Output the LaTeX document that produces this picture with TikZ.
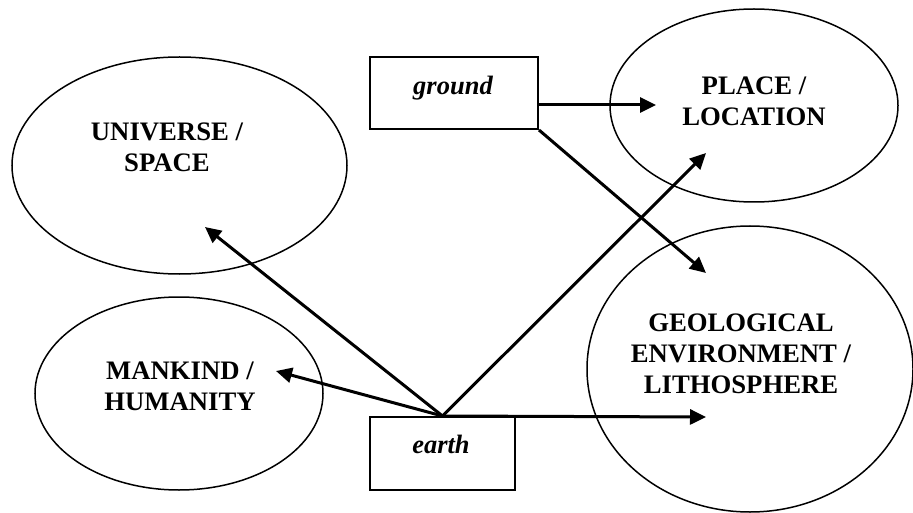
\documentclass[tikz,border=0pt]{standalone}
\usepackage{fontspec}
\setmainfont{Liberation Serif}
\usetikzlibrary{arrows.meta,shapes.geometric,calc}

\tikzset{
  concept/.style={draw, ellipse, line width=1.5pt, inner sep=0pt},
  wordbox/.style={draw, rectangle, line width=2pt, inner sep=0pt},
  conceptlabel/.style={align=center, inner sep=0pt,
    font=\fontsize{26.7}{31}\selectfont\bfseries},
  wordlabel/.style={inner sep=0pt, anchor=base,
    font=\fontsize{26.5}{31}\selectfont\bfseries\itshape},
  link/.style={line width=3pt, -{Triangle[length=16pt,width=15pt]}},
}

\begin{document}
\begin{tikzpicture}[x=1pt, y=-1pt]
  \useasboundingbox (0,0) rectangle (913,513);

  % concept ellipses
  \node[concept, minimum width=335, minimum height=217] (universe) at (179.5,165.5) {};
  \node[concept, minimum width=288, minimum height=193] (mankind) at (179,393.5) {};
  \node[concept, minimum width=288, minimum height=193] (place) at (754,105.5) {};
  \node[concept, minimum width=326, minimum height=286] (geo) at (750,369) {};

  \node[conceptlabel] (universeText) at (167,147) {UNIVERSE /\\SPACE};
  \node[conceptlabel] (mankindText) at (180,386) {MANKIND /\\HUMANITY};
  \node[conceptlabel] (placeText) at (754,101) {PLACE /\\LOCATION};
  \node[conceptlabel] (geoText) at (741,354) {GEOLOGICAL\\ENVIRONMENT /\\LITHOSPHERE};

  % word boxes
  \node[wordbox, minimum width=168, minimum height=72] (ground) at (454,93) {};
  \node[wordbox, minimum width=145, minimum height=73] (earth) at (442.5,453.5) {};
  \node[wordlabel] (groundText) at (453,95) {ground};
  \node[wordlabel] (earthText) at (441,453) {earth};

  % arrow targets inside the ellipses
  \coordinate (universeTip) at (205,227);
  \coordinate (mankindTip) at (276,371);
  \coordinate (placeTipA) at (656,105);
  \coordinate (placeTipB) at (706,153);
  \coordinate (geoTipA) at (706,273);
  \coordinate (geoTipB) at (706,417);

  % connectors
  \draw[link] ($(ground.east)+(0,12)$) -- (placeTipA);
  \draw[link] (ground.south east) -- (geoTipA);
  \draw[link] (earth.north) -- (universeTip);
  \draw[link] (earth.north) -- (mankindTip);
  \draw[link] (earth.north) -- (placeTipB);
  \draw[link] (earth.north) -- (geoTipB);
\end{tikzpicture}
\end{document}
